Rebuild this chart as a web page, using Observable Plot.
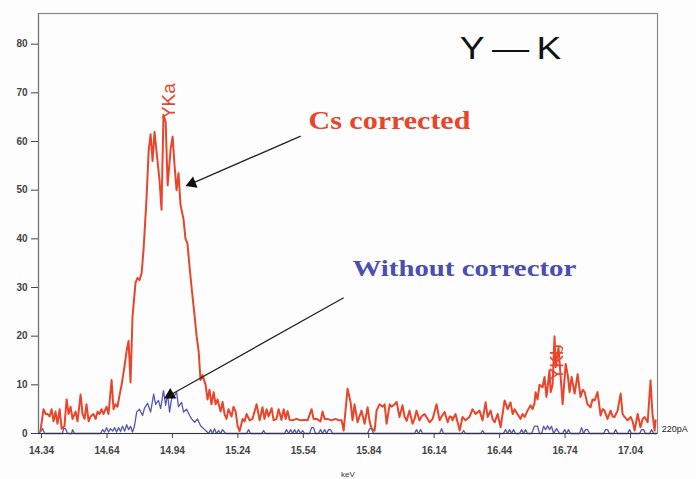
<!DOCTYPE html>
<html>
<head>
<meta charset="utf-8">
<script src="https://cdn.jsdelivr.net/npm/d3@7"></script>
<script src="https://cdn.jsdelivr.net/npm/@observablehq/plot@0.6"></script>
<style>
  html, body { margin: 0; padding: 0; background: #fdfdfd; }
  #chart svg { display: block; }
</style>
</head>
<body>
<div id="chart"></div>
<script>
// --- Cs corrected spectrum (energy in keV, counts) ---
const csKeV = [14.335,14.349,14.359,14.368,14.377,14.386,14.395,14.404,14.413,14.423,14.432,14.445,14.455,14.464,14.473,14.482,14.496,14.505,14.519,14.528,14.537,14.546,14.556,14.565,14.578,14.588,14.597,14.606,14.615,14.624,14.638,14.647,14.661,14.670,14.679,14.688,14.698,14.707,14.721,14.730,14.739,14.748,14.757,14.771,14.780,14.789,14.799,14.808,14.821,14.831,14.840,14.849,14.858,14.867,14.881,14.890,14.899,14.909,14.918,14.932,14.941,14.950,14.959,14.968,14.977,14.991,15.000,15.009,15.019,15.028,15.042,15.051,15.060,15.069,15.078,15.092,15.101,15.110,15.119,15.129,15.138,15.147,15.161,15.170,15.179,15.188,15.197,15.211,15.220,15.230,15.239,15.248,15.262,15.271,15.280,15.294,15.307,15.326,15.340,15.353,15.362,15.372,15.381,15.395,15.404,15.417,15.427,15.440,15.450,15.459,15.468,15.477,15.491,15.509,15.528,15.546,15.560,15.578,15.587,15.601,15.619,15.628,15.638,15.651,15.670,15.688,15.702,15.716,15.725,15.743,15.757,15.766,15.775,15.789,15.807,15.821,15.835,15.844,15.853,15.867,15.876,15.890,15.904,15.913,15.922,15.936,15.945,15.959,15.968,15.981,15.995,16.004,16.014,16.027,16.041,16.050,16.059,16.073,16.082,16.096,16.110,16.119,16.133,16.151,16.165,16.174,16.188,16.202,16.211,16.220,16.224,16.238,16.257,16.270,16.284,16.302,16.316,16.330,16.348,16.362,16.376,16.385,16.399,16.408,16.417,16.431,16.445,16.463,16.477,16.490,16.500,16.509,16.522,16.536,16.545,16.555,16.568,16.582,16.591,16.600,16.605,16.614,16.623,16.637,16.646,16.655,16.669,16.674,16.683,16.692,16.697,16.710,16.720,16.729,16.743,16.752,16.761,16.770,16.784,16.798,16.811,16.821,16.830,16.843,16.857,16.866,16.876,16.889,16.903,16.912,16.921,16.935,16.949,16.958,16.967,16.981,16.995,17.004,17.013,17.027,17.041,17.050,17.059,17.073,17.086,17.096,17.105,17.119,17.132,17.141,17.151,17.155];
const csCounts = [0.5,5,4,4,3.5,5,2.5,4.5,2,5,1,1.5,7,4,5.5,3,4.5,2.5,8,4,3,6,2.5,3.5,4,3,4.5,4,5,4,5.5,4,11,5,6,5.5,8,10,14,17,19,10.5,24,31,32,31.5,33,38,48,58,61.5,56,62,58,52,46,65.5,64,51,58.5,61,55,50,53.5,47,44,40,39,34,30,24,20,17,11,12,10,7,9,6,8.5,6,7,4.5,6.5,4,3,5,3.5,5.5,4.5,1.5,0.5,3,2.5,4,2.7,3,6,2.7,5.4,3,5,3.5,5.2,2.7,3,5,2.8,5,3,4.6,2.8,2.7,3,2.7,2.8,2.7,5,3,3,2.5,4.5,3,3,2.7,3,2.7,2.7,0.6,9.2,6.4,2.7,6,2.3,4.7,2,5.4,2.5,1,0.6,4.7,6,5.5,6,2,6,5.5,6,6.5,3.4,5.8,3.5,2.6,4.7,2,3,4.7,2.7,3.5,4,3,2.3,3,6,2.7,3.5,4.4,2.3,3.5,3.4,2.7,4,0.6,3.4,2.7,3.4,5,4,4.7,2.7,6.4,3.4,4.7,3,2.3,4,1.3,6.8,5,6.4,4,5,4,3,4,3.4,4.7,5.8,5,6.2,8.5,7,10,9.5,11.6,7.5,13,8.5,10,20,13.6,17.7,11.6,6,14.3,12.2,8.5,11.6,8.2,12.2,7.5,9,8.5,6,5.4,7,6.8,8.5,3.7,5,4.7,3,4.7,3.5,3.4,4.7,8.2,4,3.4,2.7,3.4,2.5,0.6,4,1.3,3,3.4,2.3,10.9,4,0.6,2.7];

// --- Without corrector spectrum ---
const woKeV = [14.326,14.335,14.345,14.354,14.436,14.441,14.450,14.459,14.478,14.482,14.491,14.611,14.620,14.629,14.638,14.647,14.656,14.666,14.675,14.684,14.693,14.702,14.711,14.721,14.730,14.739,14.748,14.757,14.766,14.776,14.789,14.803,14.812,14.826,14.840,14.854,14.863,14.876,14.886,14.899,14.909,14.918,14.927,14.936,14.950,14.959,14.968,14.982,14.991,15.005,15.019,15.028,15.042,15.055,15.069,15.083,15.097,15.106,15.115,15.124,15.133,15.142,15.152,15.161,15.170,15.184,15.280,15.289,15.298,15.349,15.358,15.367,15.454,15.463,15.473,15.482,15.491,15.500,15.509,15.518,15.528,15.537,15.546,15.569,15.578,15.587,15.596,15.610,15.619,15.628,15.638,15.647,15.656,15.665,15.674,15.835,15.844,15.853,15.862,16.050,16.059,16.068,16.078,16.087,16.165,16.174,16.183,16.266,16.275,16.284,16.353,16.362,16.371,16.458,16.467,16.477,16.486,16.495,16.504,16.513,16.532,16.541,16.550,16.559,16.568,16.587,16.600,16.614,16.623,16.633,16.642,16.651,16.660,16.669,16.678,16.688,16.701,16.715,16.729,16.738,16.747,16.756,16.765,16.807,16.816,16.825,16.834,16.843,16.853,16.917,16.926,16.935,16.944,16.963,16.972,16.981,17.027,17.036,17.045,17.082,17.091,17.100,17.109,17.128,17.137,17.146,17.160];
const woCounts = [0,0.4,1,0,0,1,1,0,0,0.8,0,0,0.8,0.3,1.2,0.3,1,0.5,1.2,0.3,1.2,0.4,1.5,0.5,1.8,0.8,1.5,0.3,1.5,4.4,5,3.7,5.2,6.2,4.4,8.1,6,6.8,5.1,8.8,5.8,8.1,4.4,7.1,7.8,8.5,5.5,6.4,4.4,5,3.7,3,2.3,3,1.6,1,0.4,0,0.8,0,1,0,0.6,0,0.8,0,0,0.8,0,0,0.6,0,0,0.8,0,0.8,0,0.8,0,0.8,0,0.6,0,0,1.2,1.2,0,0,0.8,0,0.8,0,0.8,0.8,0,0,1,1,0,0,0.8,0,0.8,0,0,1,0,0,0.6,0,0,0.6,0,0,0.8,0,0.8,0,0.8,0,0,0.8,0,0.8,0,0,1.5,1.5,0,0,1.5,0.8,1.6,0.8,1.5,0,1,0,0,0.8,0,0.8,0,0,1.2,0,0.8,0.8,0,0,0.8,0.8,0,0,0.8,0,0,0.8,0,0,0.8,0.8,0,0,0.8,0,0];

// --- Axis ticks ---
const xTicks = [14.34,14.64,14.94,15.24,15.54,15.84,16.14,16.44,16.74,17.04];
const yTicks = [0,10,20,30,40,50,60,70,80];

// --- Peak labels ---
const peakLabels = ["YKa","YKb"];
const peakKeV = [14.922, 16.703];
const peakCounts = [64.6, 10.9];

const csData = csKeV.map((k,i) => ({keV:k, counts:csCounts[i]}));
const woData = woKeV.map((k,i) => ({keV:k, counts:woCounts[i]}));
const peaks = peakLabels.map((t,i) => ({text:t, keV:peakKeV[i], counts:peakCounts[i]}));

// annotation arrows (keV, counts)
const arrows = [
  {x1: 15.528, y1: 61.1, x2: 15.030, y2: 51.4, rot: 248},
  {x1: 15.725, y1: 27.9, x2: 14.930, y2: 7.9, rot: 240}
];

const RED = "#e8452b";
const BLUE = "#5556b5";

const chart = Plot.plot({
  width: 696,
  height: 479,
  marginLeft: 38,
  marginRight: 39,
  marginTop: 13,
  marginBottom: 46,
  style: {background: "#fdfdfd", fontFamily: "Liberation Sans, Arial, sans-serif"},
  x: {domain: [14.326, 17.164]},
  y: {domain: [0, 86.3]},
  marks: [
    Plot.frame({stroke: "#8a8a8a", strokeWidth: 1.2}),
    Plot.axisX({ticks: xTicks, tickFormat: d => d.toFixed(2), tickSize: 5, tickPadding: 8, fontSize: 10, fontWeight: "bold", color: "#444", label: null}),
    Plot.axisY({ticks: yTicks, tickSize: 7, tickPadding: 4, fontSize: 10, fontWeight: "bold", color: "#444", label: null}),
    Plot.text(["keV"], {frameAnchor: "bottom", dy: 43, fontSize: 8, fill: "#333"}),
    Plot.line(woData, {x: "keV", y: "counts", stroke: BLUE, strokeWidth: 1.3}),
    Plot.line(csData, {x: "keV", y: "counts", stroke: RED, strokeWidth: 2}),
    Plot.ruleY([0], {stroke: "#333", strokeWidth: 1}),
    Plot.ruleX([14.326], {stroke: "#777", strokeWidth: 1.2}),
    Plot.text(peaks, {x: "keV", y: "counts", text: "text", rotate: -90, textAnchor: "start", fill: RED, fontSize: 19}),
    Plot.text(["Y\u2009—\u2009K"], {x: [16.49], y: [76.9], textAnchor: "middle", lineAnchor: "bottom", fontSize: 31, fill: "#111"}),
    Plot.text(["Cs corrected"], {x: [15.564], y: [62.6], textAnchor: "start", lineAnchor: "bottom", fontSize: 25, fontWeight: "bold", fontFamily: "Liberation Serif, Times New Roman, serif", fill: RED}),
    Plot.text(["Without corrector"], {x: [15.766], y: [32.4], textAnchor: "start", lineAnchor: "bottom", fontSize: 24, fontWeight: "bold", fontFamily: "Liberation Serif, Times New Roman, serif", fill: "#4a4fae"}),
    Plot.link(arrows, {x1: "x1", y1: "y1", x2: "x2", y2: "y2", stroke: "#222", strokeWidth: 1.3}),
    Plot.dot(arrows, {x: "x2", y: "y2", symbol: "triangle", r: 4.5, fill: "#111", stroke: "none", rotate: "rot"}),
    Plot.text(["220pA"], {x: [17.183], y: [1], textAnchor: "start", fontSize: 9, fill: "#222", clip: false})
  ]
});
document.getElementById("chart").appendChild(chart);

// horizontal stretch of the annotation texts, as in the reference
const stretch = {"Cs corrected": 1.2, "Without corrector": 1.2, "Y\u2009—\u2009K": 1.2};
d3.select(chart).selectAll("text").each(function() {
  const s = stretch[this.textContent];
  if (s) {
    const t = this.getAttribute("transform") || "";
    this.setAttribute("transform", t + ` scale(${s},1)`);
  }
});
</script>
</body>
</html>
